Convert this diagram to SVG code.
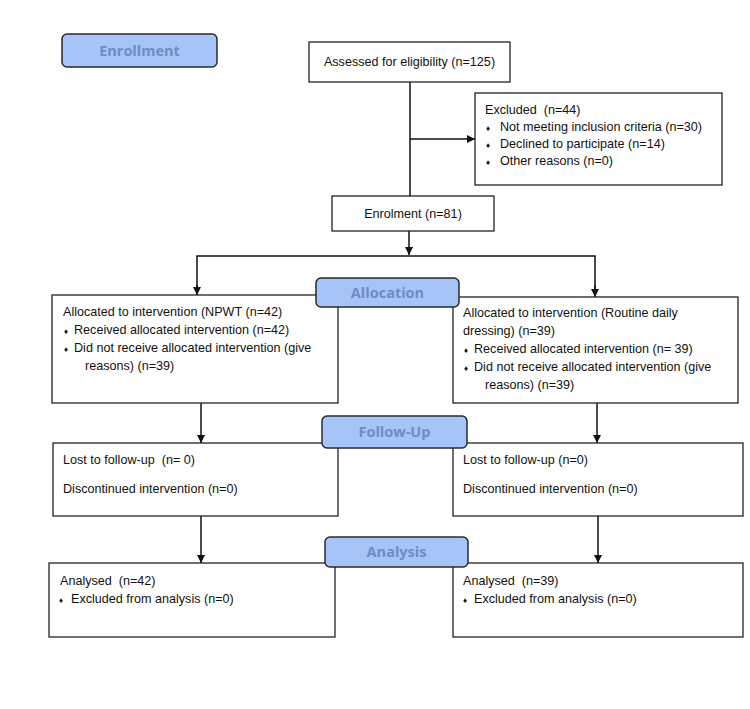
<svg xmlns="http://www.w3.org/2000/svg" width="750" height="709" viewBox="0 0 750 709">
<style>
.box{fill:#fff;stroke:#222;stroke-width:1.3}
.lab{fill:#a6c4f7;stroke:#2a2a2a;stroke-width:1.5}
.lt{font-family:"Open Sans","Liberation Sans",sans-serif;font-weight:bold;font-size:14.5px;fill:#6b8dc4;text-anchor:middle}
.t{font-family:"Liberation Sans",Arial,sans-serif;font-size:12.6px;fill:#111;white-space:pre}
.b{font-size:8px}
.c{fill:none;stroke:#111;stroke-width:1.5}
</style>
<defs>
<marker id="ah" viewBox="0 0 10 10" refX="10" refY="5" markerWidth="8" markerHeight="8" markerUnits="userSpaceOnUse" orient="auto">
<path d="M0,0 L10,5 L0,10 z" fill="#111"/>
</marker>
</defs>
<rect width="750" height="709" fill="#fff"/>
<g id="connectors">
<path class="c" d="M410,82 V196"/>
<path class="c" d="M410,139 H475" marker-end="url(#ah)"/>
<path class="c" d="M409,231 V255" marker-end="url(#ah)"/>
<path class="c" d="M197,294 V256 H595 V294" />
<path class="c" d="M197,285 V295" marker-end="url(#ah)"/>
<path class="c" d="M595,285 V297" marker-end="url(#ah)"/>
<path class="c" d="M201,403 V443" marker-end="url(#ah)"/>
<path class="c" d="M597,403 V443" marker-end="url(#ah)"/>
<path class="c" d="M201,516 V563" marker-end="url(#ah)"/>
<path class="c" d="M598,516 V563" marker-end="url(#ah)"/>
</g>
<g id="enrollment-label">
<rect class="lab" x="62" y="34" width="155" height="33" rx="5"/>
<text class="lt" x="139.5" y="56">Enrollment</text>
</g>
<g id="assessed">
<rect class="box" x="309" y="42" width="201" height="40"/>
<text class="t" x="409.5" y="66" text-anchor="middle">Assessed for eligibility (n=125)</text>
</g>
<g id="excluded">
<rect class="box" x="475" y="93" width="247" height="92"/>
<text class="t" x="485" y="114">Excluded  (n=44)</text>
<text class="t" x="486" y="131"><tspan class="b">♦</tspan><tspan x="500">Not meeting inclusion criteria (n=30)</tspan></text>
<text class="t" x="486" y="148"><tspan class="b">♦</tspan><tspan x="500">Declined to participate (n=14)</tspan></text>
<text class="t" x="486" y="165"><tspan class="b">♦</tspan><tspan x="500">Other reasons (n=0)</tspan></text>
</g>
<g id="enrolment">
<rect class="box" x="332" y="196" width="162" height="35"/>
<text class="t" x="413" y="218" text-anchor="middle">Enrolment (n=81)</text>
</g>
<g id="alloc-left">
<rect class="box" x="52" y="295" width="286" height="108"/>
<text class="t" x="63" y="316">Allocated to intervention (NPWT (n=42)</text>
<text class="t" x="64" y="334"><tspan class="b">♦</tspan><tspan x="74">Received allocated intervention (n=42)</tspan></text>
<text class="t" x="64" y="352"><tspan class="b">♦</tspan><tspan x="74">Did not receive allocated intervention (give</tspan></text>
<text class="t" x="85" y="370">reasons) (n=39)</text>
</g>
<g id="alloc-right">
<rect class="box" x="453" y="297" width="285" height="106"/>
<text class="t" x="463" y="317">Allocated to intervention (Routine daily</text>
<text class="t" x="463" y="335">dressing) (n=39)</text>
<text class="t" x="464" y="353"><tspan class="b">♦</tspan><tspan x="474">Received allocated intervention (n= 39)</tspan></text>
<text class="t" x="464" y="371"><tspan class="b">♦</tspan><tspan x="474">Did not receive allocated intervention (give</tspan></text>
<text class="t" x="485" y="389">reasons) (n=39)</text>
</g>
<g id="allocation-label">
<rect class="lab" x="316" y="278" width="143" height="29" rx="5"/>
<text class="lt" x="387.5" y="298">Allocation</text>
</g>
<g id="follow-left">
<rect class="box" x="53" y="443" width="285" height="73"/>
<text class="t" x="63" y="464">Lost to follow-up  (n= 0)</text>
<text class="t" x="63" y="493">Discontinued intervention (n=0)</text>
</g>
<g id="follow-right">
<rect class="box" x="453" y="443" width="290" height="73"/>
<text class="t" x="463" y="464">Lost to follow-up (n=0)</text>
<text class="t" x="463" y="493">Discontinued intervention (n=0)</text>
</g>
<g id="followup-label">
<rect class="lab" x="322" y="416" width="145" height="32" rx="5"/>
<text class="lt" x="394.5" y="437">Follow-Up</text>
</g>
<g id="analysis-left">
<rect class="box" x="49" y="563" width="286" height="74"/>
<text class="t" x="60" y="585">Analysed  (n=42)</text>
<text class="t" x="59" y="603"><tspan class="b">♦</tspan><tspan x="71">Excluded from analysis (n=0)</tspan></text>
</g>
<g id="analysis-right">
<rect class="box" x="453" y="563" width="290" height="74"/>
<text class="t" x="463" y="585">Analysed  (n=39)</text>
<text class="t" x="463" y="603"><tspan class="b">♦</tspan><tspan x="474">Excluded from analysis (n=0)</tspan></text>
</g>
<g id="analysis-label">
<rect class="lab" x="325" y="537" width="143" height="30" rx="5"/>
<text class="lt" x="396.5" y="557">Analysis</text>
</g>
</svg>
